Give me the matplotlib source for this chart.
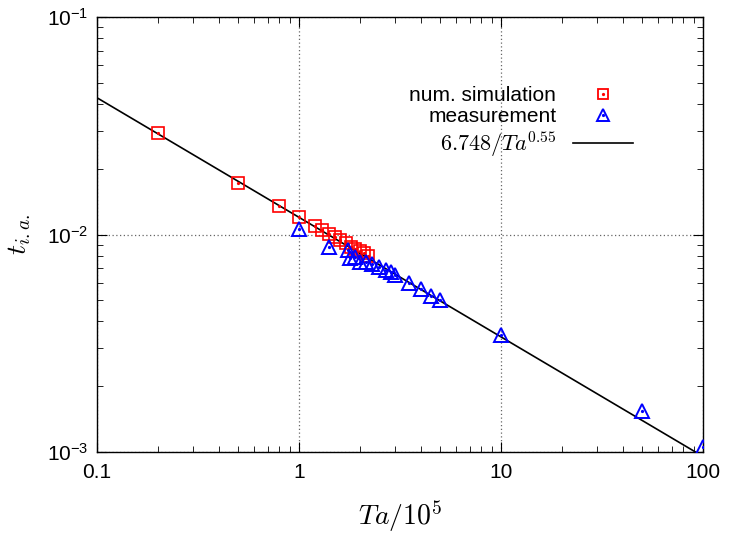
import numpy as np
import matplotlib
matplotlib.use("Agg")
import matplotlib.pyplot as plt
from matplotlib.lines import Line2D
from matplotlib.legend_handler import HandlerTuple
from matplotlib.ticker import FixedLocator, FixedFormatter, LogLocator, NullFormatter

plt.rcParams['font.family'] = ['Liberation Sans', 'DejaVu Sans']
plt.rcParams['mathtext.fontset'] = 'cm'

# data
sim_x = [0.2, 0.5, 0.8, 1.0, 1.2, 1.3, 1.4, 1.5, 1.6, 1.7, 1.8, 1.9, 2.0, 2.1, 2.2]
sim_y = [0.0294, 0.0173, 0.0136, 0.0120, 0.0109, 0.01045, 0.0101, 0.0097, 0.0094,
         0.0091, 0.0088, 0.0086, 0.0084, 0.0082, 0.0080]
meas_x = [1.0, 1.4, 1.75, 1.78, 1.9, 2.0, 2.15, 2.3, 2.5, 2.7, 2.85, 3.0,
          3.5, 4.0, 4.5, 5.0, 10, 50, 100]
meas_y = [0.0106, 0.0088, 0.0085, 0.0078, 0.0079, 0.0075, 0.0075, 0.0073, 0.0071,
          0.0069, 0.0067, 0.0065, 0.0060, 0.0056, 0.0052, 0.0050, 0.00345, 0.00155, 0.00105]
fit_coef = 6.748
fit_exp = 0.55
fit_x = np.array([0.1, 100.0])
fit_y = fit_coef / (fit_x * 1e5) ** fit_exp

x_ticks = [0.1, 1, 10, 100]
x_ticklabels = ['0.1', '1', '10', '100']
y_ticks = [1e-3, 1e-2, 1e-1]
y_ticklabels = [r'$\mathregular{10^{-3}}$', r'$\mathregular{10^{-2}}$', r'$\mathregular{10^{-1}}$']

RED = '#ff0000'
BLUE = '#0000ff'

fig = plt.figure(figsize=(7.3, 5.38), dpi=100)
ax = fig.add_axes([0.133, 0.160, 0.830, 0.808])

ax.plot(sim_x, sim_y, linestyle='none', marker='s', markersize=9, markerfacecolor='none',
        markeredgecolor=RED, markeredgewidth=1.2, zorder=3)
ax.plot(sim_x, sim_y, linestyle='none', marker='o', markersize=1.3, color=RED, zorder=3)
ax.plot(meas_x, meas_y, linestyle='none', marker='^', markersize=10, markerfacecolor='none',
        markeredgecolor=BLUE, markeredgewidth=1.4, zorder=4)
ax.plot(meas_x, meas_y, linestyle='none', marker='o', markersize=1.3, color=BLUE, zorder=4)
ax.plot(fit_x, fit_y, color='black', linewidth=1.2, zorder=2)

ax.set_xscale('log')
ax.set_yscale('log')
ax.set_xlim(0.1, 100)
ax.set_ylim(1e-3, 1e-1)

ax.xaxis.set_major_locator(FixedLocator(x_ticks))
ax.xaxis.set_major_formatter(FixedFormatter(x_ticklabels))
ax.yaxis.set_major_locator(FixedLocator(y_ticks))
ax.yaxis.set_major_formatter(FixedFormatter(y_ticklabels))
ax.xaxis.set_minor_locator(LogLocator(base=10, subs=np.arange(2, 10), numticks=20))
ax.yaxis.set_minor_locator(LogLocator(base=10, subs=np.arange(2, 10), numticks=20))
ax.xaxis.set_minor_formatter(NullFormatter())
ax.yaxis.set_minor_formatter(NullFormatter())

ax.tick_params(which='both', direction='in', top=True, right=True, labelsize=15)
ax.tick_params(which='major', length=7, width=0.8, pad=8)
ax.tick_params(which='minor', length=4, width=0.6)
ax.tick_params(axis='y', pad=6)

ax.grid(True, which='major', color='#666666', linestyle=(0, (1, 2)), linewidth=0.9)

for s in ax.spines.values():
    s.set_linewidth(1.0)

ax.set_xlabel(r'$Ta/10^5$', fontsize=20, labelpad=12)
ax.set_ylabel(r'$t_{i.a.}$', fontsize=20, labelpad=10)

h_sim = (Line2D([], [], linestyle='none', marker='s', markersize=7, markerfacecolor='none',
                markeredgecolor=RED, markeredgewidth=1.3),
         Line2D([], [], linestyle='none', marker='o', markersize=1.3, color=RED))
h_meas = (Line2D([], [], linestyle='none', marker='^', markersize=8, markerfacecolor='none',
                 markeredgecolor=BLUE, markeredgewidth=1.4),
          Line2D([], [], linestyle='none', marker='o', markersize=1.3, color=BLUE))
h_fit = Line2D([], [], color='black', linewidth=1.2)

leg = ax.legend([h_sim, h_meas, h_fit],
                ['num. simulation', 'measurement', r'$6.748/Ta^{0.55}$'],
                handler_map={tuple: HandlerTuple(ndivide=1, pad=0)},
                loc='upper right', bbox_to_anchor=(0.885, 0.842), markerfirst=False, frameon=False,
                fontsize=15, handlelength=2.9, handletextpad=0.8, labelspacing=0.12,
                borderaxespad=0, borderpad=0)
leg.get_texts()[2].set_fontsize(16)

fig.savefig('out.png', dpi=100)
